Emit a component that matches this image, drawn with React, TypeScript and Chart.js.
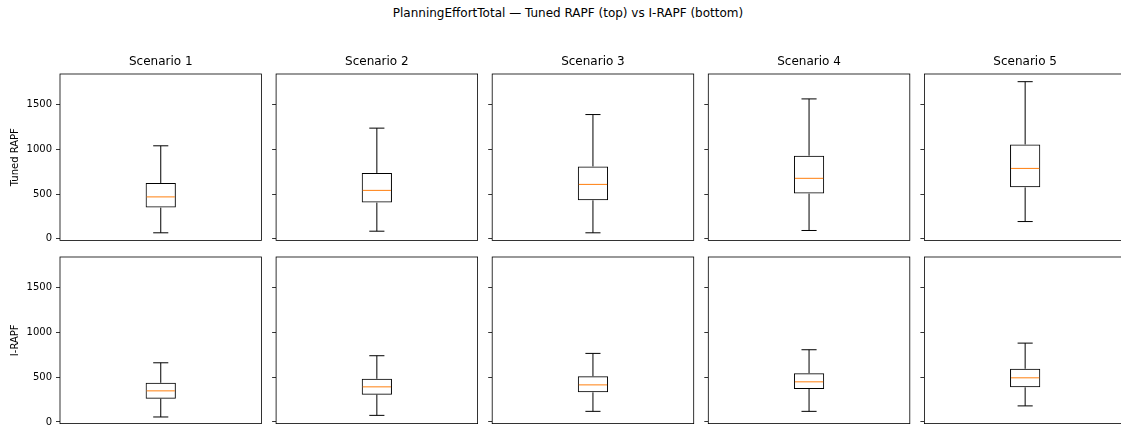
import React, { useEffect, useRef } from "react";
import { Chart, registerables } from "chart.js";

Chart.register(...registerables);

// ---------------- data ----------------
const suptitle = "PlanningEffortTotal — Tuned RAPF (top) vs I-RAPF (bottom)";
const scenarios = ["Scenario 1", "Scenario 2", "Scenario 3", "Scenario 4", "Scenario 5"];
const rowLabels = ["Tuned RAPF", "I-RAPF"];
const yTicks = [0, 500, 1000, 1500];

const tunedLow = [67, 85, 67, 93, 193];
const tunedQ1 = [349, 405, 431, 506, 576];
const tunedMed = [469, 542, 609, 677, 788];
const tunedQ3 = [625, 737, 810, 930, 1056];
const tunedHigh = [1041, 1239, 1391, 1566, 1759];

const irapfLow = [56, 74, 119, 119, 180];
const irapfQ1 = [261, 306, 332, 370, 388];
const irapfMed = [348, 393, 415, 449, 494];
const irapfQ3 = [438, 483, 512, 546, 595];
const irapfHigh = [662, 741, 767, 808, 882];

const yMin = -18;
const yMax = 1845;

const rows = [
  { low: tunedLow, q1: tunedQ1, med: tunedMed, q3: tunedQ3, high: tunedHigh },
  { low: irapfLow, q1: irapfQ1, med: irapfMed, q3: irapfQ3, high: irapfHigh },
];

// ---------------- layout ----------------
const FONT = "'DejaVu Sans', 'Liberation Sans', sans-serif";
const PLOT_W = 201.5;
const COL_STEP = 216.1;
const FIRST_LEFT = 60;

const boxExtras = {
  id: "boxExtras",
  afterDatasetsDraw(chart: any, _args: any, opts: any) {
    const { ctx, chartArea, scales } = chart;
    const y = scales.y;
    const bar: any = chart.getDatasetMeta(0).data[0];
    if (!bar) return;
    const x = bar.x;
    const w = bar.width;
    const line = (x1: number, y1: number, x2: number, y2: number) => {
      ctx.beginPath();
      ctx.moveTo(x1, y1);
      ctx.lineTo(x2, y2);
      ctx.stroke();
    };
    ctx.save();
    ctx.lineWidth = 1;
    ctx.strokeStyle = "#000";
    const yLo = y.getPixelForValue(opts.low);
    const yQ1 = y.getPixelForValue(opts.q1);
    const yMed = y.getPixelForValue(opts.med);
    const yQ3 = y.getPixelForValue(opts.q3);
    const yHi = y.getPixelForValue(opts.high);
    line(x, yQ3, x, yHi);
    line(x - w / 4, yHi, x + w / 4, yHi);
    line(x, yQ1, x, yLo);
    line(x - w / 4, yLo, x + w / 4, yLo);
    ctx.strokeStyle = "#ff7f0e";
    line(x - w / 2 + 1, yMed, x + w / 2 - 1, yMed);
    // spines
    ctx.strokeStyle = "#000";
    ctx.lineWidth = 0.8;
    ctx.strokeRect(chartArea.left, chartArea.top, chartArea.width, chartArea.height);
    ctx.restore();
  },
};

function Panel({ row, col }: { row: number; col: number }) {
  const ref = useRef<HTMLCanvasElement>(null);

  const L = col === 0 ? 60 : 10;
  const plotLeft = FIRST_LEFT + col * COL_STEP;
  const canvasLeft = Math.floor(plotLeft) - L;
  const padLeft = plotLeft - Math.floor(plotLeft);
  const W = L + 202 + L;
  const padRight = W - (plotLeft + PLOT_W - canvasLeft);

  const isTop = row === 0;
  const canvasTop = isTop ? 50 : 246;
  const H = isTop ? 202 : 189;
  const padTop = isTop ? 4.8 : 11;
  const padBottom = isTop ? 11.6 : 11.4;

  useEffect(() => {
    const d = rows[row];
    const chart = new Chart(ref.current as HTMLCanvasElement, {
      type: "bar",
      data: {
        labels: [scenarios[col]],
        datasets: [
          {
            data: [[d.q1[col], d.q3[col]]] as any,
            backgroundColor: "rgba(0,0,0,0)",
            borderColor: "#000",
            borderWidth: 1,
            borderSkipped: false,
            barPercentage: 0.15,
            categoryPercentage: 1,
          },
        ],
      },
      options: {
        animation: false,
        responsive: false,
        events: [],
        layout: {
          padding: { left: padLeft, right: padRight, top: padTop, bottom: padBottom },
        },
        plugins: {
          legend: { display: false },
          tooltip: { enabled: false },
          title: {
            display: isTop,
            fullSize: false,
            text: scenarios[col],
            color: "#000",
            font: { family: FONT, size: 12, weight: "normal", lineHeight: 1.2 },
            padding: { top: 0, bottom: 4.8 },
          },
          boxExtras: {
            low: d.low[col],
            q1: d.q1[col],
            med: d.med[col],
            q3: d.q3[col],
            high: d.high[col],
          },
        } as any,
        scales: {
          x: { display: false },
          y: {
            min: yMin,
            max: yMax,
            afterBuildTicks: (scale: any) => {
              scale.ticks = yTicks.map((v) => ({ value: v }));
            },
            afterFit: (scale: any) => {
              scale.width = L;
            },
            border: { display: false },
            grid: {
              display: true,
              drawOnChartArea: false,
              drawTicks: true,
              tickLength: 4,
              color: "#000",
              lineWidth: 0.8,
            },
            ticks: {
              display: col === 0,
              color: "#000",
              padding: 4,
              font: { family: FONT, size: 10 },
              callback: (v: any) => String(v),
            },
            title: {
              display: col === 0,
              text: rowLabels[row],
              color: "#000",
              font: { family: FONT, size: 10, lineHeight: 1.2 },
              padding: { top: 9, bottom: 0 },
            },
          },
        },
      },
      plugins: [boxExtras],
    });
    return () => chart.destroy();
  }, [row, col]);

  return (
    <canvas
      ref={ref}
      width={W}
      height={H}
      style={{ position: "absolute", left: canvasLeft, top: canvasTop, width: W, height: H }}
    />
  );
}

export default function App() {
  return (
    <div
      style={{
        position: "absolute",
        left: 0,
        top: 0,
        width: 1121,
        height: 425,
        overflow: "hidden",
        background: "#fff",
      }}
    >
      <div
        style={{
          position: "absolute",
          left: 0,
          top: 5,
          width: 1136,
          textAlign: "center",
          fontFamily: FONT,
          fontSize: 12,
          lineHeight: "16px",
          color: "#000",
          whiteSpace: "nowrap",
        }}
      >
        {suptitle}
      </div>
      {[0, 1].map((r) =>
        scenarios.map((_, c) => <Panel key={`${r}-${c}`} row={r} col={c} />)
      )}
    </div>
  );
}
